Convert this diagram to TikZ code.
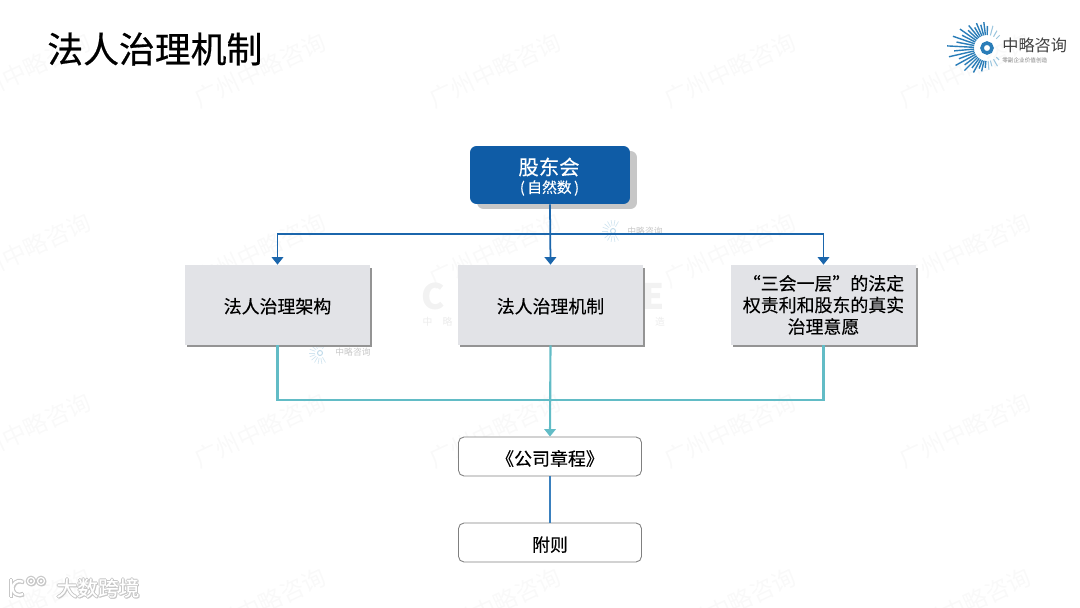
\documentclass[tikz,border=0pt]{standalone}
\usepackage{fontspec}
\setmainfont{Noto Sans CJK SC}
\newfontfamily\titlefont[FakeBold=0.5]{Noto Sans CJK SC}
\newfontfamily\boxfont[FakeBold=0.2]{Noto Sans CJK SC}
\usetikzlibrary{arrows.meta,positioning,calc,shadows}
\definecolor{rootblue}{HTML}{0F5CA6}
\definecolor{busblue}{HTML}{1B66AC}
\definecolor{linkblue}{HTML}{3A80BE}
\definecolor{busteal}{HTML}{62BCC6}
\definecolor{boxgray}{HTML}{E2E3E7}
\definecolor{logoblue}{HTML}{2A7DB8}
\definecolor{logolight}{HTML}{9CC6DE}

\begin{document}
\begin{tikzpicture}[
  x=0.02cm,y=-0.02cm,
  font=\boxfont,
  wmark/.style={font=\fontsize{13.5}{13.5}\selectfont,text=black!2.5,rotate=25,inner sep=0pt},
  wmbig/.style={font=\fontsize{20}{20}\selectfont\bfseries,text=black!5,inner sep=0pt},
  wmsmall/.style={font=\fontsize{5.6}{5.6}\selectfont,text=black!8,inner sep=0pt},
  rootbox/.style={rounded corners=0.13cm,fill=rootblue,text=white,align=center,inner sep=0pt,
    minimum width=3.2cm,minimum height=1.16cm,
    general shadow={shadow xshift=0.14cm,shadow yshift=-0.1cm,fill=black!22}},
  graybox/.style={fill=boxgray,align=center,inner sep=0pt,
    minimum width=3.7cm,minimum height=1.6cm,
    execute at begin node=\rule{0pt}{10pt},
    font=\boxfont\fontsize{10.2}{12.3}\selectfont,
    general shadow={shadow xshift=0.045cm,shadow yshift=-0.05cm,fill=black!42}},
  docbox/.style={draw=black!50,line width=0.5pt,rounded corners=0.11cm,fill=white,inner sep=0pt,
    minimum width=3.66cm,minimum height=0.78cm,
    execute at begin node=\rule{0pt}{11pt},
    font=\boxfont\fontsize{10.2}{12}\selectfont},
  busb/.style={line width=1pt,draw=busblue},
  bust/.style={line width=1.2pt,draw=busteal},
  tipb/.style={-{Triangle[length=1.5mm,width=2.3mm]}},
  ray/.style={line width=0.8pt,draw=logoblue},
  rayl/.style={line width=0.6pt,draw=logolight}
]
\useasboundingbox (0,0) rectangle (1080,608);

% ---- watermark ----
\foreach \y in {70,250,430,605} {
  \foreach \x in {25,260,495,730,965} {
    \node[wmark] (wm\x-\y) at (\x,\y) {广州中略咨询};
  }
}
\node[wmbig,anchor=west] (wmc) at (421,296) {C};
\node[wmbig,anchor=east] (wme) at (665,296) {E};
\node[wmsmall] (wmz) at (427.5,322) {中};
\node[wmsmall] (wml) at (447.5,322) {略};
\node[wmsmall] (wmo) at (660,322) {造};

% ---- small marks ----
\foreach \cx/\cy in {613/231,320/353} {
  \foreach \a in {60,80,...,300} {
    \draw[line width=0.4pt,draw=logolight!45] (\cx,\cy) ++(\a:5) -- ++(\a:6);
  }
  \draw[line width=0.6pt,draw=logolight!60] (\cx,\cy) circle (2.5);
}
\node[font=\fontsize{5}{5}\selectfont,text=black!22] (wma) at (645,231) {中略咨询};
\node[font=\fontsize{5}{5}\selectfont,text=black!22] (wmb) at (353,352) {中略咨询};

% ---- title ----
\node[font=\titlefont\fontsize{20.4}{20.4}\selectfont,anchor=west,inner sep=0pt] (title) at (47,49) {法人治理机制};

% ---- logo ----
\foreach \a/\r in {95/20,103/24,111/22,119/28,127/25,135/32,143/28,151/36,159/30,167/39,175/33,183/40,191/31,199/36,207/28,215/33,223/26,231/29,239/24,247/27,255/24,263/26,271/22} {
  \draw[ray] (987,48) ++(\a:13) -- ++(\a:\r-13);
}
\foreach \a/\r in {45/17,60/21,75/19,85/22,285/23,300/20,315/18} {
  \draw[rayl] (987,48) ++(\a:13) -- ++(\a:\r-13);
}
\draw[line width=2pt,draw=logoblue] (987,48) circle (5);
\node[font=\fontsize{9.2}{9.2}\selectfont,text=black!75,anchor=west,inner sep=0pt] (logoname) at (1002,45) {中略咨询};
\node[font=\fontsize{3.2}{3.2}\selectfont,text=black!50,anchor=west,inner sep=0pt] (logosub) at (1002,60) {零副企业价值创造};

% ---- boxes ----
\node[rootbox] (shareholder) at (550,175) {};
\node[text=white,font=\boxfont\fontsize{11.6}{11.6}\selectfont,inner sep=0pt] (shtext) at (549,167) {股东会};
\node[text=white,font=\boxfont\fontsize{8.4}{8.4}\selectfont,inner sep=0pt] (shsub) at (549.5,188) {(\kern0.17em 自然数\kern0.17em)};

\node[graybox] (arch) at (277.5,305) {法人治理架构};
\node[graybox] (mech) at (550.5,305) {法人治理机制};
\node[graybox] (will) at (823.5,305) {“三会一层”的法定\\权责利和股东的真实\\治理意愿};

\node[docbox] (charter) at (550,456.5) {《公司章程》};
\node[docbox] (annex) at (550,542.5) {附则};

% ---- connectors ----
\coordinate (bushi) at (550,234);
\coordinate (buslo) at (550,400);
\draw[busb,tipb] (shareholder.south) -- (mech.north);
\draw[busb,tipb] (bushi) -| (arch.north);
\draw[busb,tipb] (bushi) -| (will.north);

\draw[bust] (arch.south) |- (buslo);
\draw[bust] (will.south) |- (buslo);
\draw[bust,tipb] (mech.south) -- (charter.north);
\draw[line width=1.1pt,draw=linkblue] (charter.south) -- (annex.north);

% ---- corner mark ----
\foreach \dx/\dy in {-1/0,1/0,0/-1,0/1,1/1} {
  \node[font=\boxfont\fontsize{11.8}{11.8}\selectfont,text=black!22,inner sep=0pt] (cn\dx\dy) at (98+\dx,588+\dy) {大数跨境};
  \draw[line width=1.5pt,draw=black!22] (11+\dx,579+\dy) -- (11+\dx,597+\dy);
  \draw[line width=1.5pt,draw=black!22] (23+\dx,582+\dy) arc[start angle=-60,end angle=-300,radius=7];
  \draw[line width=1pt,draw=black!22] (31+\dx,581+\dy) circle (3.5);
  \draw[line width=1pt,draw=black!22] (41+\dx,581+\dy) circle (3.5);
}
\node[font=\boxfont\fontsize{11.8}{11.8}\selectfont,text=white,inner sep=0pt] (cnmark) at (98,588) {大数跨境};
\draw[line width=1.3pt,draw=white] (11,579) -- (11,597);
\draw[line width=1.3pt,draw=white] (23,582) arc[start angle=-60,end angle=-300,radius=7];
\draw[line width=0.7pt,draw=white] (31,581) circle (3.5);
\draw[line width=0.7pt,draw=white] (41,581) circle (3.5);

\end{tikzpicture}
\end{document}
